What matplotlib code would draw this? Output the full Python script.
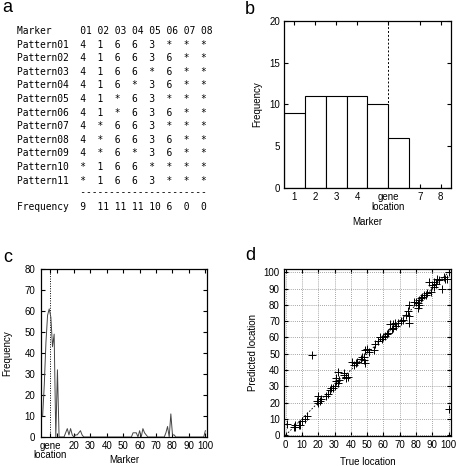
import numpy as np
import matplotlib
matplotlib.use("Agg")
import matplotlib.pyplot as plt

plt.rcParams["font.family"] = ["Liberation Sans", "DejaVu Sans"]
plt.rcParams["font.size"] = 7

# ---- panel a: haplotype patterns ----
marker_ids = ["01", "02", "03", "04", "05", "06", "07", "08"]
pattern_names = ["Pattern%02d" % i for i in range(1, 12)]
patterns = [
    ["4", "1", "6", "6", "3", "*", "*", "*"],
    ["4", "1", "6", "6", "3", "6", "*", "*"],
    ["4", "1", "6", "6", "*", "6", "*", "*"],
    ["4", "1", "6", "*", "3", "6", "*", "*"],
    ["4", "1", "*", "6", "3", "*", "*", "*"],
    ["4", "1", "*", "6", "3", "6", "*", "*"],
    ["4", "*", "6", "6", "3", "*", "*", "*"],
    ["4", "*", "6", "6", "3", "6", "*", "*"],
    ["4", "*", "6", "*", "3", "6", "*", "*"],
    ["*", "1", "6", "6", "*", "*", "*", "*"],
    ["*", "1", "6", "6", "3", "*", "*", "*"],
]
frequency = [9, 11, 11, 11, 10, 6, 0, 0]

# ---- panel c: frequency over 100 markers ----
freq100 = [
    10, 25, 45, 58, 61, 57, 43, 49, 0, 32,
    0, 0, 0, 0, 2, 4, 1, 4, 1, 0,
    1, 1, 2, 3, 1, 0, 0, 0, 0, 0,
    0, 0, 0, 0, 0, 0, 0, 0, 0, 0,
    0, 0, 0, 0, 0, 0, 0, 0, 0, 0,
    0, 0, 0, 0, 0, 2, 2, 2, 0, 3,
    0, 4, 2, 1, 0, 0, 0, 0, 0, 0,
    0, 0, 0, 0, 0, 2, 5, 0, 11, 1,
    1, 0, 0, 0, 0, 0, 0, 0, 0, 0,
    0, 0, 0, 0, 0, 0, 0, 0, 0, 3,
]
gene_location = 5.5

# ---- panel d: true vs predicted location ----
true_loc = [1, 5, 6, 6, 8, 9, 10, 12, 13, 16, 19, 20, 20, 21, 22, 25, 26, 27,
            28, 29, 30, 31, 31, 32, 32, 33, 36, 36, 37, 37, 38, 41, 42, 43, 44,
            46, 47, 48, 48, 49, 49, 50, 51, 54, 55, 57, 58, 59, 60, 61, 62, 63,
            64, 65, 66, 66, 67, 68, 69, 71, 72, 74, 75, 76, 76, 76, 79, 80, 81,
            81, 82, 82, 83, 84, 85, 86, 87, 88, 89, 90, 91, 91, 92, 93, 94, 96,
            97, 98, 99, 100, 100]
pred_loc = [7, 5, 6, 5, 6, 6, 9, 10, 12, 49, 21, 20, 24, 21, 22, 24, 25, 28,
            29, 29, 30, 35, 33, 32, 39, 34, 37, 38, 35, 36, 36, 45, 43, 44, 45,
            47, 48, 48, 46, 44, 52, 53, 51, 52, 56, 58, 60, 59, 60, 61, 62, 63,
            68, 65, 66, 68, 69, 67, 69, 70, 71, 74, 76, 80, 73, 69, 82, 82, 81,
            78, 80, 83, 84, 85, 86, 86, 87, 94, 88, 92, 91, 94, 93, 96, 95, 90,
            97, 96, 96, 100, 16]

fig = plt.figure(figsize=(4.6, 4.66), dpi=100)

def px(x, y, w, h):
    # axes rectangle from pixel box (left, top, width, height)
    return [x / 460, 1 - (y + h) / 466, w / 460, h / 466]

def style(ax):
    ax.tick_params(direction="in", top=True, right=True, length=3,
                   width=0.8, pad=3, labelsize=7)
    for s in ax.spines.values():
        s.set_linewidth(0.9)

# panel a as monospaced text
ax_a = fig.add_axes([0, 0, 1, 1])
ax_a.set_xlim(0, 460)
ax_a.set_ylim(466, 0)
ax_a.axis("off")
mono = dict(family="DejaVu Sans Mono", fontsize=6.9, ha="left", va="center")
lines = ["Marker".ljust(11) + "".join(m.ljust(3) for m in marker_ids)]
for name, row in zip(pattern_names, patterns):
    lines.append(name.ljust(11) + "".join(v.ljust(3) for v in row))
for i, ln in enumerate(lines):
    ax_a.text(17, 31 + i * 13.6, ln, **mono)
ax_a.text(17, 192, " " * 11 + "-" * 22, **mono)
ax_a.text(17, 207, "Frequency".ljust(11) + "".join(str(f).ljust(3) for f in frequency), **mono)

# panel b
ax_b = fig.add_axes(px(284, 21, 167, 167))
xb = np.arange(1, len(frequency) + 1)
ax_b.axvline(gene_location, color="black", ls=(0, (2, 2)), lw=0.7)
ax_b.bar(xb, frequency, width=1.0, color="white", edgecolor="black", lw=0.8, zorder=2)
ax_b.set_xlim(0.5, 8.5)
ax_b.set_ylim(0, 20)
ax_b.set_yticks([0, 5, 10, 15, 20])
ax_b.set_xticks([1, 2, 3, 4, gene_location, 7, 8])
ax_b.set_xticklabels(["1", "2", "3", "4", "gene\nlocation", "7", "8"], linespacing=0.95)
ax_b.set_xlabel("Marker", fontsize=7, labelpad=4)
ax_b.set_ylabel("Frequency", fontsize=7, labelpad=5)
style(ax_b)

# panel c
ax_c = fig.add_axes(px(41, 269, 166, 168))
xc = np.arange(1, len(freq100) + 1)
ax_c.axvline(gene_location, color="black", ls=(0, (1, 1.5)), lw=0.7)
ax_c.plot(xc, freq100, color="#444444", lw=0.7)
ax_c.set_xlim(0, 101)
ax_c.set_ylim(0, 80)
ax_c.set_yticks(range(0, 81, 10))
ax_c.set_xticks([gene_location, 10] + list(range(20, 101, 10)))
ax_c.set_xticklabels(["gene\nlocation", ""] + [str(v) for v in range(20, 101, 10)],
                     linespacing=0.9)
ax_c.set_xlabel("Marker", fontsize=7)
ax_c.xaxis.set_label_coords(0.5, -0.105)
ax_c.set_ylabel("Frequency", fontsize=7, labelpad=9)
style(ax_c)
ax_c.tick_params(axis="y", pad=4)

# panel d
ax_d = fig.add_axes(px(284, 269, 167, 167))
ax_d.grid(True, color="#888888", ls=(0, (1, 1.5)), lw=0.6)
ax_d.plot([0, 100], [0, 100], color="black", ls=(0, (2, 2)), lw=0.6)
ax_d.plot(true_loc, pred_loc, "+", color="black", ms=6, mew=0.7)
ax_d.set_xlim(-1, 101.5)
ax_d.set_ylim(-0.5, 102)
ax_d.set_xticks(range(0, 101, 10))
ax_d.set_yticks(range(0, 101, 10))
ax_d.set_xlabel("True location", fontsize=7, labelpad=5)
ax_d.set_ylabel("Predicted location", fontsize=7, labelpad=4)
ax_d.set_axisbelow(True)
style(ax_d)

# panel letters
for lbl, x, y in [("a", 2, 8), ("b", 245, 9), ("c", 3, 257), ("d", 245, 256)]:
    fig.text(x / 460, 1 - y / 466, lbl, fontsize=13, ha="left", va="center")

fig.savefig("out.png", dpi=100)
